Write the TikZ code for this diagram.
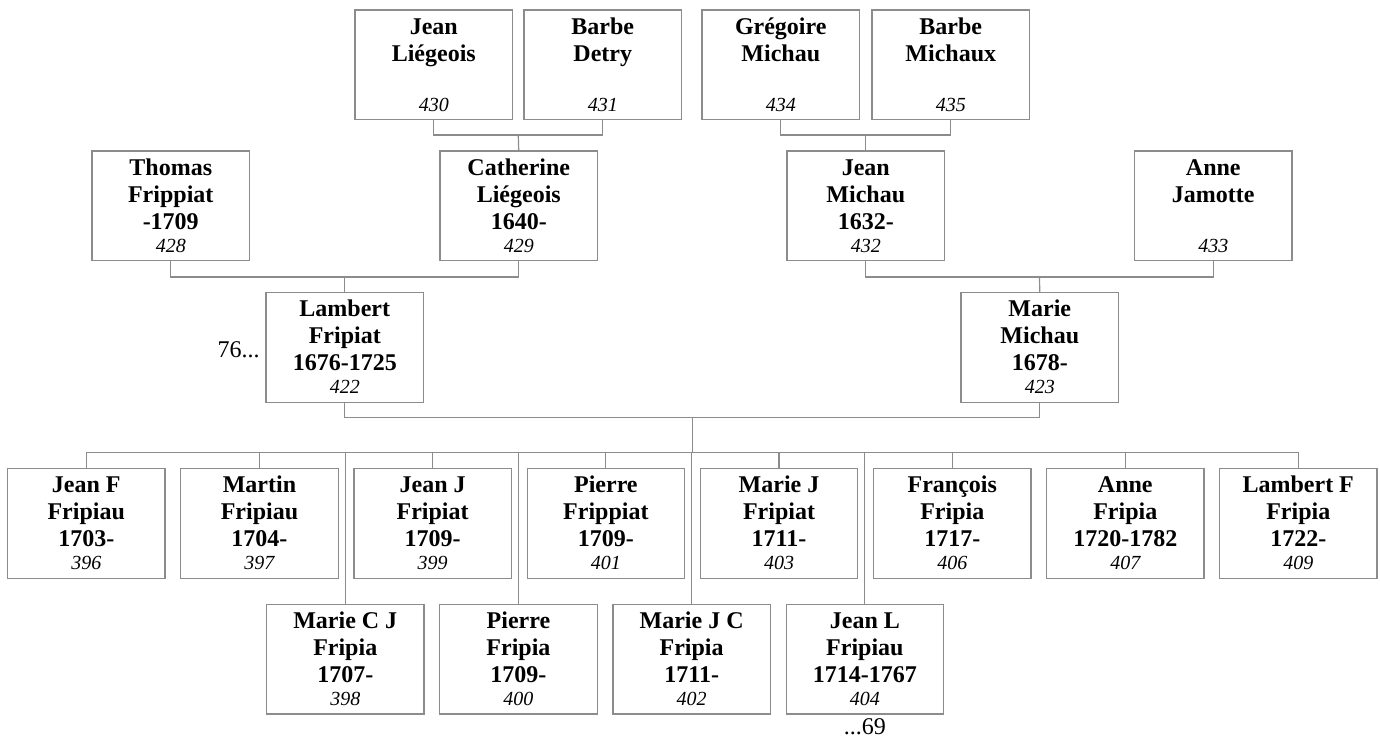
\documentclass[tikz,border=0pt]{standalone}
\usepackage{fontspec}
\setmainfont{Liberation Serif}
\usetikzlibrary{calc}
\definecolor{linegray}{RGB}{140,140,140}
\newcommand{\person}[4]{\parbox[c][54.8pt][t]{78.75pt}{\centering\fontsize{12}{13.5}\selectfont\bfseries\rule{0pt}{12pt}#1\\#2\\\mbox{}#3\\[-2pt]{\fontsize{10}{13.5}\selectfont\mdseries\itshape #4}}}
\tikzset{
  pbox/.style={draw=linegray, line width=0.6pt, fill=white, rectangle, inner sep=0pt, outer sep=0pt, anchor=north west},
  conn/.style={draw=linegray, line width=0.6pt},
  ellip/.style={font=\fontsize{12}{13.5}\selectfont, inner sep=0pt}
}
\begin{document}
\begin{tikzpicture}[x=0.5pt,y=-0.5pt]
\useasboundingbox (0,0) rectangle (1380,740);
% top row
\node[pbox] (p430) at (355,10) {\person{Jean}{Liégeois}{}{430}};
\node[pbox] (p431) at (524,10) {\person{Barbe}{Detry}{}{431}};
\node[pbox] (p434) at (702,10) {\person{Grégoire}{Michau}{}{434}};
\node[pbox] (p435) at (872,10) {\person{Barbe}{Michaux}{}{435}};
% second row
\node[pbox] (p428) at (92,151) {\person{Thomas}{Frippiat}{-1709}{428}};
\node[pbox] (p429) at (440,151) {\person{Catherine}{Liégeois}{1640-}{429}};
\node[pbox] (p432) at (787,151) {\person{Jean}{Michau}{1632-}{432}};
\node[pbox] (p433) at (1134.5,151) {\person{Anne}{Jamotte}{}{433}};
% parents
\node[pbox] (p422) at (266,292.7) {\person{Lambert}{Fripiat}{1676-1725}{422}};
\node[pbox] (p423) at (961,292.7) {\person{Marie}{Michau}{1678-}{423}};
% children row 1
\node[pbox] (p396) at (7.5,468.5) {\person{Jean F}{Fripiau}{1703-}{396}};
\node[pbox] (p397) at (180.7,468.5) {\person{Martin}{Fripiau}{1704-}{397}};
\node[pbox] (p399) at (353.9,468.5) {\person{Jean J}{Fripiat}{1709-}{399}};
\node[pbox] (p401) at (527.1,468.5) {\person{Pierre}{Frippiat}{1709-}{401}};
\node[pbox] (p403) at (700.3,468.5) {\person{Marie J}{Fripiat}{1711-}{403}};
\node[pbox] (p406) at (873.5,468.5) {\person{François}{Fripia}{1717-}{406}};
\node[pbox] (p407) at (1046.5,468.5) {\person{Anne}{Fripia}{1720-1782}{407}};
\node[pbox] (p409) at (1219.5,468.5) {\person{Lambert F}{Fripia}{1722-}{409}};
% children row 2
\node[pbox] (p398) at (266.5,604.3) {\person{Marie C J}{Fripia}{1707-}{398}};
\node[pbox] (p400) at (439.7,604.3) {\person{Pierre}{Fripia}{1709-}{400}};
\node[pbox] (p402) at (612.9,604.3) {\person{Marie J C}{Fripia}{1711-}{402}};
\node[pbox] (p404) at (786.1,604.3) {\person{Jean L}{Fripiau}{1714-1767}{404}};
% continuation labels
\node[ellip, anchor=base east] (l76) at (260,357.5) {76...};
\node[ellip, anchor=base] (l69) at ($(p404.south)+(0,21)$) {...69};
% junction coordinates
\coordinate (j1) at ($(p430.south)!0.5!(p431.south)+(0,15.4)$);
\coordinate (j2) at ($(p434.south)!0.5!(p435.south)+(0,15.4)$);
\coordinate (j3) at ($(p428.south)!0.5!(p429.south)+(0,16.4)$);
\coordinate (j4) at ($(p432.south)!0.5!(p433.south)+(0,16.4)$);
\coordinate (j5) at ($(p422.south)!0.5!(p423.south)+(0,15.4)$);
\coordinate (sb) at ($(j5)+(0,35)$);
% connectors
\draw[conn] (p430.south) |- (j1) -| (p431.south);
\draw[conn] (j1) -- (p429.north);
\draw[conn] (p434.south) |- (j2) -| (p435.south);
\draw[conn] (j2) -- (p432.north);
\draw[conn] (p428.south) |- (j3) -| (p429.south);
\draw[conn] (j3) -- (p422.north);
\draw[conn] (p432.south) |- (j4) -| (p433.south);
\draw[conn] (j4) -- (p423.north);
\draw[conn] (p422.south) |- (j5) -| (p423.south);
\draw[conn] (j5) -- (sb);
\draw[conn] (p396.north) -- (p396.north |- sb) -- (p409.north |- sb) -- (p409.north);
\foreach \c in {p397,p399,p401,p403,p406,p407}{
  \draw[conn] (\c.north) -- (\c.north |- sb);
}
\foreach \c in {p398,p400,p402,p404}{
  \draw[conn] (\c.north) -- (\c.north |- sb);
}
\end{tikzpicture}
\end{document}
